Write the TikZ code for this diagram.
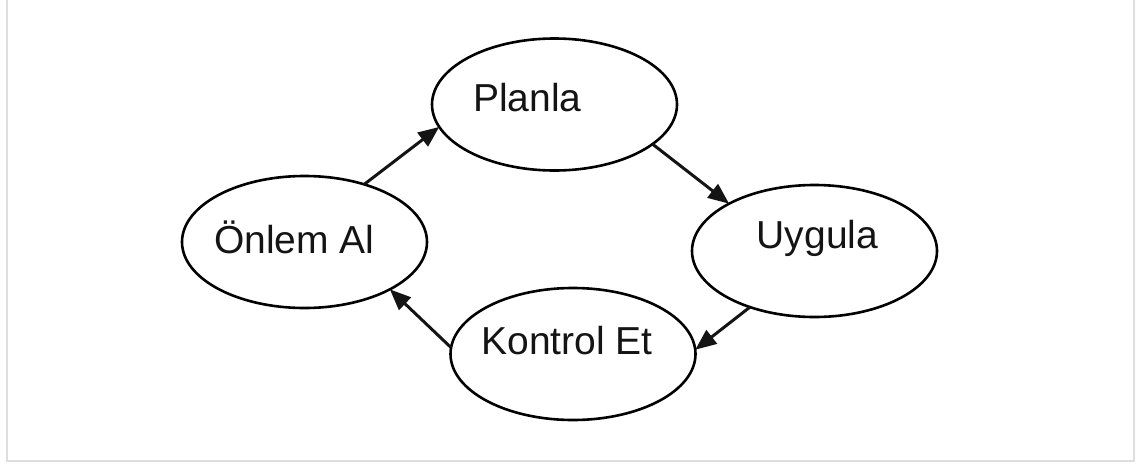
\documentclass[tikz,border=0pt]{standalone}
\usepackage{fontspec}
\setmainfont{Liberation Sans}
\usetikzlibrary{shapes.geometric,arrows.meta}

\tikzset{
  phase/.style={ellipse, draw=black, line width=2.6pt, minimum width=245pt,
    minimum height=132pt, inner sep=0pt, outer sep=0pt},
  caption/.style={font=\fontsize{39}{39}\selectfont, text=black!92},
  flow/.style={line width=3pt, draw=black!92,
    -{Triangle[length=21pt,width=17pt]}},
  frame/.style={draw=black!13, line width=2pt}
}

\begin{document}
\begin{tikzpicture}[x=1pt, y=-1pt]
  \useasboundingbox (0,0) rectangle (1147,466);

  % open-topped frame
  \draw[frame] (6.5,0) -- (6.5,461) -- (1134,461) -- (1134,0);

  % the four stages of the cycle
  \node[phase, label={[caption, xshift=-27pt, yshift=7pt]center:Planla}]
    (plan) at (554.5,104.5) {};
  \node[phase, label={[caption, xshift=3pt, yshift=13pt]center:Uygula}]
    (apply) at (814.5,251) {};
  \node[phase, label={[caption, xshift=-6pt, yshift=13pt]center:Kontrol Et}]
    (check) at (573,354) {};
  \node[phase, label={[caption, xshift=-10pt, yshift=5pt]center:Önlem Al}]
    (act) at (304.5,242) {};

  % cycle connectors
  \draw[flow] (act.44) -- (plan.191);
  \draw[flow] (plan.-22.5) -- (apply.151);
  \draw[flow] (apply.-139.5) -- (check.2.5);
  \draw[flow] (check.177.5) -- (act.-29.5);
\end{tikzpicture}
\end{document}
